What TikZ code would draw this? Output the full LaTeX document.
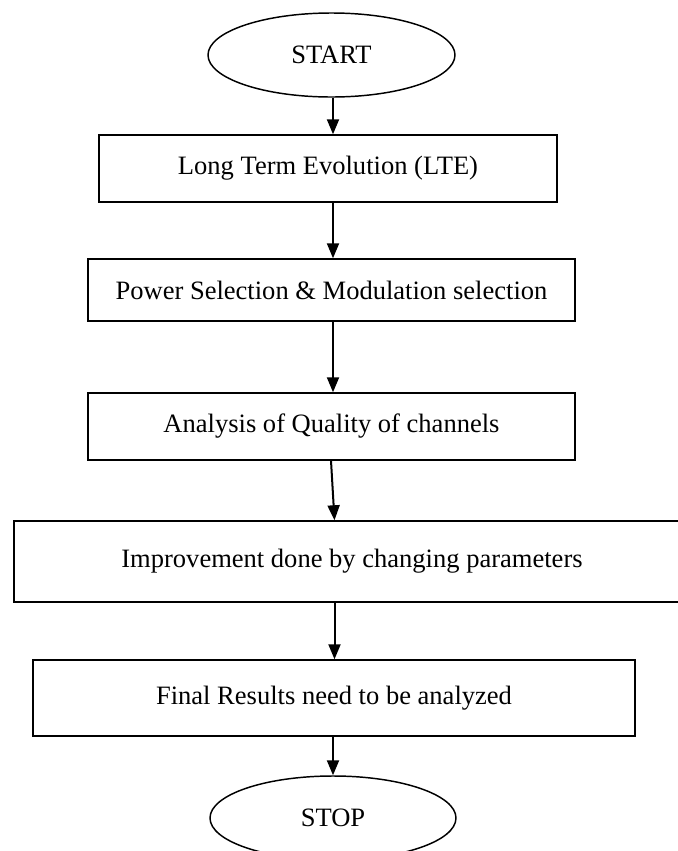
\documentclass[tikz,border=0pt]{standalone}
\usepackage{fontspec}
\setmainfont{Liberation Serif}
\usetikzlibrary{shapes.geometric,arrows.meta,calc}
\begin{document}
\begin{tikzpicture}[x=0.75pt,y=-0.75pt,
  every node/.style={font=\fontsize{19.9pt}{24pt}\selectfont, text=black},
  procbox/.style={draw=black, line width=1.1pt, rectangle, inner sep=0pt},
  termin/.style={draw=black, line width=1.1pt, ellipse, inner sep=0pt},
  flow/.style={draw=black, line width=1.5pt, -{Triangle[length=11.25pt,width=9pt]}}]
\useasboundingbox (0,0) rectangle (678,851);
\clip (0,0) rectangle (678,851);
\fill[white] (0,0) rectangle (678,851);
\node[termin, minimum width=247*0.75pt, minimum height=84*0.75pt] (start) at (331.5,55) {START};
\node[procbox, minimum width=458*0.75pt, minimum height=67*0.75pt] (b1) at (328,168.5) {Long Term Evolution (LTE)};
\node[procbox, minimum width=487*0.75pt, minimum height=62*0.75pt] (b2) at (331.5,290) {Power Selection \& Modulation selection};
\node[procbox, minimum width=487*0.75pt, minimum height=67*0.75pt] (b3) at (331.5,426.5) {Analysis of Quality of channels};
\node[procbox, minimum width=676*0.75pt, minimum height=81*0.75pt] (b4) at (352,561.5) {Improvement done by changing parameters};
\node[procbox, minimum width=602*0.75pt, minimum height=76*0.75pt] (b5) at (334,698) {Final Results need to be analyzed};
\node[termin, minimum width=246*0.75pt, minimum height=84*0.75pt] (stop) at (333,818) {STOP};
\coordinate (ax) at (333,0);
\coordinate (axa) at (331,0);
\coordinate (axb) at (334.5,0);
\draw[flow] (start.south -| ax) -- (b1.north -| ax);
\draw[flow] (b1.south -| ax) -- (b2.north -| ax);
\draw[flow] (b2.south -| ax) -- (b3.north -| ax);
\draw[flow] (b3.south -| axa) -- (b4.north -| axb);
\draw[flow] (b4.south -| axb) -- (b5.north -| axb);
\draw[flow] (b5.south -| ax) -- (stop.north -| ax);
\end{tikzpicture}
\end{document}
